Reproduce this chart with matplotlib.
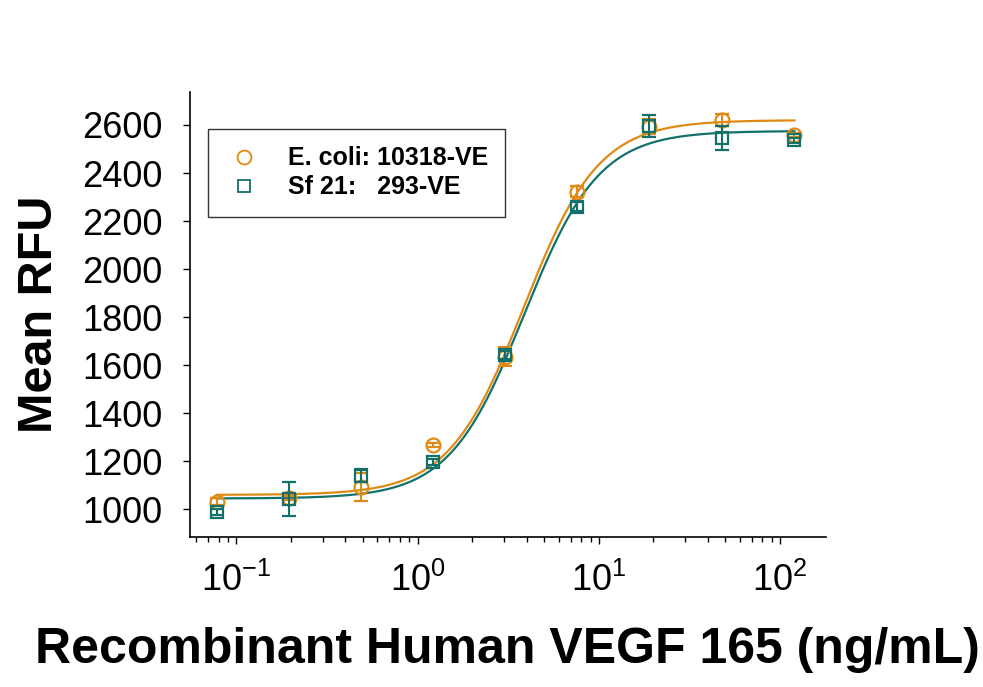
import numpy as np
import matplotlib
matplotlib.use("Agg")
import matplotlib.pyplot as plt
from matplotlib.lines import Line2D

plt.rcParams['font.family'] = ['Liberation Sans', 'DejaVu Sans']

# concentrations (ng/mL)
conc = [0.078, 0.195, 0.49, 1.22, 3.05, 7.6, 19, 48, 120]

# E. coli 10318-VE
ecoli_mean = [1032, 1047, 1093, 1268, 1635, 2322, 2593, 2621, 2558]
ecoli_err = [15, 10, 60, 8, 40, 22, 30, 25, 8]
# Sf 21 293-VE
sf21_mean = [990, 1043, 1139, 1197, 1642, 2260, 2596, 2546, 2537]
sf21_err = [12, 72, 27, 12, 15, 20, 45, 50, 10]

# 4PL fit parameters (bottom, top, EC50, hill)
ecoli_fit = [1060, 2620, 3.85, 2.1]
sf21_fit = [1045, 2575, 3.87, 2.1]

labels = ['E. coli: 10318-VE', 'Sf 21:   293-VE']
orange = '#DF8A14'
teal = '#13716B'

def fourpl(x, p):
    b, t, ec, h = p
    return b + (t - b) / (1 + (ec / x) ** h)

fig = plt.figure(figsize=(9.83, 6.87), dpi=100)
ax = fig.add_axes([0.193, 0.2188, 0.647, 0.6472])

xs = np.logspace(np.log10(conc[0]), np.log10(conc[-1]), 300)
ax.plot(xs, fourpl(xs, ecoli_fit), color=orange, lw=1.6, zorder=2)
ax.plot(xs, fourpl(xs, sf21_fit), color=teal, lw=1.6, zorder=2)

ax.errorbar(conc, ecoli_mean, yerr=ecoli_err, fmt='o', mfc='none', mec=orange,
            ecolor=orange, ms=10, mew=1.6, elinewidth=1.5, capsize=5, capthick=1.5, zorder=3)
ax.errorbar(conc, sf21_mean, yerr=sf21_err, fmt='s', mfc='none', mec=teal,
            ecolor=teal, ms=9, mew=1.6, elinewidth=1.5, capsize=5, capthick=1.5, zorder=4)

ax.set_xscale('log')
ax.set_xlim(10 ** -1.257, 10 ** 2.252)
ax.set_ylim(886, 2737)
ax.set_yticks(range(1000, 2601, 200))

for s in ['top', 'right']:
    ax.spines[s].set_visible(False)
for s in ['left', 'bottom']:
    ax.spines[s].set_linewidth(1.2)

ax.tick_params(axis='y', which='major', length=4.7, width=1, pad=15, labelsize=26)
ax.tick_params(axis='x', which='major', length=5, width=1, pad=14, labelsize=26)
ax.tick_params(axis='x', which='minor', length=3.5, width=1)

ax.set_ylabel('Mean RFU', fontsize=35, fontweight='bold', labelpad=14)
ax.set_xlabel('Recombinant Human VEGF 165 (ng/mL)', fontsize=36, fontweight='bold', labelpad=20)

handles = [Line2D([], [], ls='none', marker='o', mfc='none', mec=orange, ms=10, mew=1.3),
           Line2D([], [], ls='none', marker='s', mfc='none', mec=teal, ms=9, mew=1.3)]
leg = ax.legend(handles, labels, loc='upper left', bbox_to_anchor=(0.028, 0.917),
                borderaxespad=0, frameon=True, fancybox=False, edgecolor='black',
                prop={'weight': 'bold', 'size': 18}, handletextpad=1.0,
                borderpad=0.7, labelspacing=0.2, handlelength=1.5)
leg.get_frame().set_linewidth(1.0)

fig.savefig('out.png', dpi=100)
